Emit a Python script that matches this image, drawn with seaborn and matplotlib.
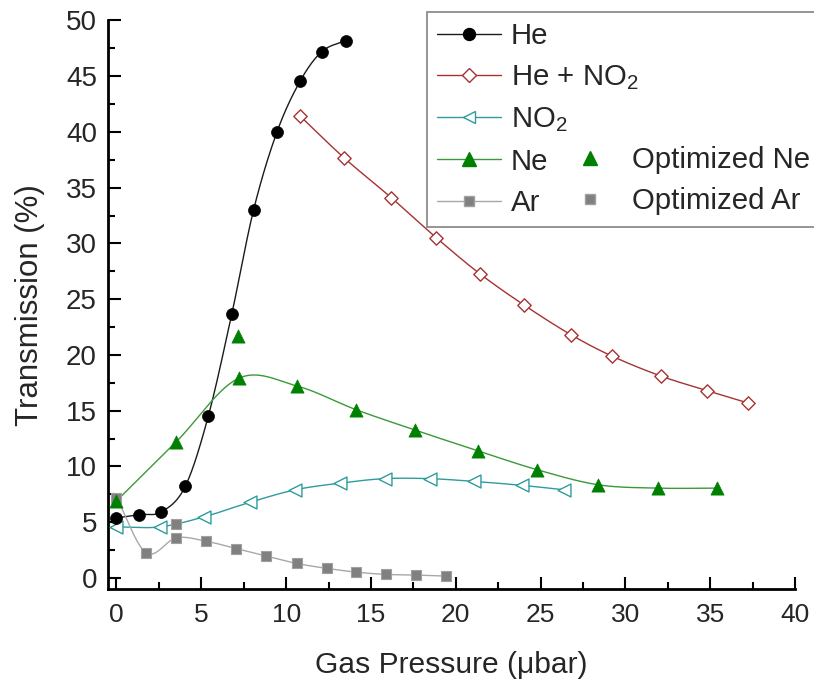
import numpy as np
import matplotlib
matplotlib.use("Agg")
import matplotlib.pyplot as plt
from matplotlib.lines import Line2D
from matplotlib.ticker import MultipleLocator
import seaborn as sns

# ---------------- data ----------------
he_x = [0.0, 1.32, 2.64, 4.05, 5.41, 6.8, 8.08, 9.46, 10.84, 12.1, 13.5]
he_y = [5.38, 5.67, 5.91, 8.2, 14.5, 23.7, 33.0, 40.0, 44.6, 47.2, 48.2]

heno2_x = [10.84, 13.4, 16.2, 18.86, 21.4, 24.0, 26.8, 29.2, 32.1, 34.8, 37.2]
heno2_y = [41.4, 37.7, 34.1, 30.5, 27.3, 24.5, 21.8, 19.9, 18.1, 16.8, 15.7]

no2_x = [0.0, 2.54, 5.13, 7.85, 10.54, 13.2, 15.8, 18.47, 21.1, 23.9, 26.4]
no2_y = [4.57, 4.57, 5.46, 6.77, 7.9, 8.5, 8.9, 8.9, 8.65, 8.3, 7.9]

ne_x = [0.0, 3.52, 7.2, 10.66, 14.1, 17.6, 21.3, 24.8, 28.4, 31.9, 35.4]
ne_y = [6.9, 12.2, 17.9, 17.2, 15.1, 13.26, 11.4, 9.7, 8.35, 8.05, 8.05]

ne_opt_x = [7.15]
ne_opt_y = [21.7]

ar_x = [0.0, 1.75, 3.52, 5.28, 7.05, 8.83, 10.64, 12.41, 14.1, 15.86, 17.68, 19.45]
ar_y = [7.2, 2.25, 3.59, 3.29, 2.63, 1.95, 1.29, 0.85, 0.52, 0.31, 0.25, 0.16]

ar_opt_x = [3.52]
ar_opt_y = [4.84]

labels = ["He", "He + NO$_2$", "NO$_2$", "Ne", "Ar", "Optimized Ne", "Optimized Ar"]
xticks = [0, 5, 10, 15, 20, 25, 30, 35, 40]
yticks = [0, 5, 10, 15, 20, 25, 30, 35, 40, 45, 50]


def smooth_curve(x, y, per_seg=40):
    """Cubic Hermite curve through the points (finite-difference tangents)."""
    x = np.asarray(x, float)
    y = np.asarray(y, float)
    k = len(x)
    m = np.empty(k)
    m[0] = (y[1] - y[0]) / (x[1] - x[0])
    m[-1] = (y[-1] - y[-2]) / (x[-1] - x[-2])
    for i in range(1, k - 1):
        m[i] = (y[i + 1] - y[i - 1]) / (x[i + 1] - x[i - 1])
    xs_all, ys_all = [], []
    for i in range(k - 1):
        h = x[i + 1] - x[i]
        t = np.linspace(0, 1, per_seg, endpoint=(i == k - 2))
        h00 = 2 * t ** 3 - 3 * t ** 2 + 1
        h10 = t ** 3 - 2 * t ** 2 + t
        h01 = -2 * t ** 3 + 3 * t ** 2
        h11 = t ** 3 - t ** 2
        xs_all.append(x[i] + t * h)
        ys_all.append(h00 * y[i] + h10 * h * m[i] + h01 * y[i + 1] + h11 * h * m[i + 1])
    return np.concatenate(xs_all), np.concatenate(ys_all)


sns.set_style("ticks")
plt.rcParams["font.family"] = ["Liberation Sans", "DejaVu Sans"]
plt.rcParams["mathtext.fontset"] = "custom"
plt.rcParams["mathtext.rm"] = "Liberation Sans"
plt.rcParams["mathtext.it"] = "Liberation Sans"

fig = plt.figure(figsize=(8.14, 6.8), dpi=100)
ax = fig.add_axes([0.1327, 0.1338, 0.9767 - 0.1327, 0.9699 - 0.1338])

c_he = "#000000"
c_heno2 = "#A63232"
c_no2 = "#2E9C9C"
c_ne = "#008000"
c_ne_line = "#3A9A3A"
c_ar = "#808080"
c_ar_line = "#A8A8A8"

series = [
    (he_x, he_y, "#1a1a1a", dict(marker="o", s=8.6 ** 2, color=c_he, edgecolor=c_he, linewidth=0.5)),
    (heno2_x, heno2_y, c_heno2, dict(marker="D", s=6.8 ** 2, color="white", edgecolor=c_heno2, linewidth=1.0)),
    (no2_x, no2_y, c_no2, dict(marker="<", s=9.3 ** 2, color="white", edgecolor=c_no2, linewidth=1.0)),
    (ne_x, ne_y, c_ne_line, dict(marker="^", s=9.5 ** 2, color=c_ne, edgecolor=c_ne, linewidth=0.5)),
    (ar_x, ar_y, c_ar_line, dict(marker="s", s=7.6 ** 2, color=c_ar, edgecolor="#a0a0a0", linewidth=0.8)),
]

for x, y, lc, mk in series:
    xs, ys = smooth_curve(x, y)
    sns.lineplot(x=xs, y=ys, ax=ax, color=lc, linewidth=1.0, sort=False,
                 estimator=None, zorder=2)

for x, y, lc, mk in series[::-1]:
    sns.scatterplot(x=x, y=y, ax=ax, zorder=3, **mk)

sns.scatterplot(x=ne_opt_x, y=ne_opt_y, ax=ax, marker="^", s=9.5 ** 2,
                color=c_ne, edgecolor=c_ne, linewidth=0.5, zorder=3)
sns.scatterplot(x=ar_opt_x, y=ar_opt_y, ax=ax, marker="s", s=7.6 ** 2,
                color=c_ar, edgecolor="#a0a0a0", linewidth=0.8, zorder=4)

ax.set_xlim(-0.5, 40)
ax.set_ylim(-1.0, 50)
ax.set_xticks(xticks)
ax.set_yticks(yticks)
ax.xaxis.set_minor_locator(MultipleLocator(2.5))
ax.yaxis.set_minor_locator(MultipleLocator(2.5))
ax.tick_params(axis="both", which="major", direction="in", length=9, width=1.5, color="black")
ax.tick_params(axis="both", which="minor", direction="in", length=5, width=1.5, color="black")
ax.tick_params(axis="x", labelsize=19, pad=10)
ax.tick_params(axis="y", labelsize=20, pad=8)
for sp in ["top", "right"]:
    ax.spines[sp].set_visible(False)
for sp in ["left", "bottom"]:
    ax.spines[sp].set_linewidth(2.0)
    ax.spines[sp].set_color("black")

ax.set_xlabel("Gas Pressure (\u03bcbar)", fontsize=21.6, labelpad=17.5)
ax.set_ylabel("Transmission (%)", fontsize=22.5, labelpad=15)

# legend
blank = Line2D([], [], linestyle="none", marker=None)
h_he = Line2D([], [], color="#1a1a1a", lw=1, marker="o", ms=8.6, mfc=c_he, mec=c_he)
h_heno2 = Line2D([], [], color=c_heno2, lw=1, marker="D", ms=6.8, mfc="white", mec=c_heno2)
h_no2 = Line2D([], [], color=c_no2, lw=1, marker="<", ms=9.3, mfc="white", mec=c_no2)
h_ne = Line2D([], [], color=c_ne_line, lw=1, marker="^", ms=9.5, mfc=c_ne, mec=c_ne)
h_ar = Line2D([], [], color=c_ar_line, lw=1, marker="s", ms=7.6, mfc=c_ar, mec="#a0a0a0")
h_neo = Line2D([], [], linestyle="none", marker="^", ms=9.5, mfc=c_ne, mec=c_ne)
h_aro = Line2D([], [], linestyle="none", marker="s", ms=7.6, mfc=c_ar, mec="#a0a0a0")

handles = [h_he, h_heno2, h_no2, h_ne, h_ar, blank, blank, blank, h_neo, h_aro]
leg_labels = labels[:5] + ["", "", ""] + labels[5:]
leg = fig.legend(handles, leg_labels, ncol=2, loc="upper left",
                 bbox_to_anchor=(427 / 814, 1 - 12 / 680), fontsize=21.2,
                 frameon=True, fancybox=False, edgecolor="#707070",
                 handlelength=2.15, handletextpad=0.35, columnspacing=-2.72,
                 labelspacing=0.45, borderpad=0.35, borderaxespad=0)
leg.get_frame().set_linewidth(1.3)

fig.savefig("out.png", dpi=100)
